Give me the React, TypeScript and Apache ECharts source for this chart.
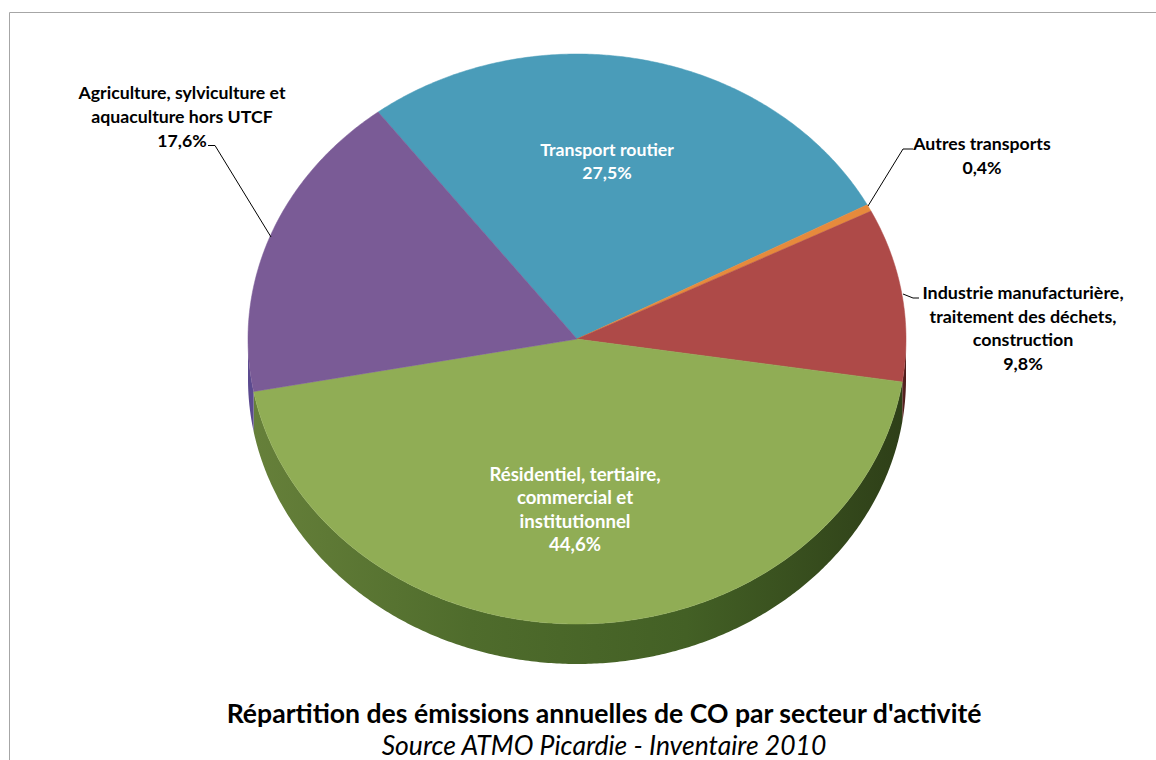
import React, { useEffect, useRef } from "react";
import * as echarts from "echarts";

const sectors = ["Transport routier", "Autres transports", "Industrie manufacturière,\ntraitement des déchets,\nconstruction", "Résidentiel, tertiaire,\ncommercial et\ninstitutionnel", "Agriculture, sylviculture et\naquaculture hors UTCF"];
const shares = [27.5, 0.4, 9.8, 44.6, 17.6];
const topColors = ["#4a9cb9", "#e68a3c", "#ae4a48", "#90ad55", "#7a5b96"];
const wallStops = [
  ["#2f6b80", "#2f6b80"],
  ["#a05c20", "#a05c20"],
  ["#5e2422", "#4a1c1a"],
  ["#66803a", "#4f6c2c", "#436025", "#2e3f18"],
  ["#5b4a8f", "#5b4a8f"],
];
const labelColors = ["#ffffff", "#000000", "#000000", "#ffffff", "#000000"];
const labelSizes = [17.7, 17.7, 17.9, 18.6, 17.7];
const labelCenters = [[607, 161], [982, 155.5], [1023, 327.5], [575, 509], [182, 116.5]];
const titleText = "Répartition des émissions annuelles de CO par secteur d'activité";
const sourceText = "Source ATMO Picardie - Inventaire 2010";

const CX = 577, CY = 339, RX = 329, RY = 285, DEPTH = 40, START_DEG = -37.2;
const FONT = "Lato, sans-serif";

const total = shares.reduce((a, b) => a + b, 0);
const pt = (deg: number, dy = 0) => {
  const r = (deg * Math.PI) / 180;
  return [CX + RX * Math.sin(r), CY - RY * Math.cos(r) + dy];
};
const sliceRange = (i: number) => {
  const before = shares.slice(0, i).reduce((a, b) => a + b, 0);
  const a0 = START_DEG + (before / total) * 360;
  return [a0, a0 + (shares[i] / total) * 360];
};
const arc = (a0: number, a1: number, dy = 0) => {
  const n = Math.max(2, Math.ceil((a1 - a0) / 0.5));
  const out: number[][] = [];
  for (let k = 0; k <= n; k++) out.push(pt(a0 + ((a1 - a0) * k) / n, dy));
  return out;
};
const fmt = (v: number) => v.toFixed(1).replace(".", ",") + "%";

export default function App() {
  const ref = useRef<HTMLDivElement>(null);
  useEffect(() => {
    const chart = echarts.init(ref.current!, null, { renderer: "svg" });
    const data = shares.map((v, i) => ({ value: v, name: sectors[i] }));
    chart.setOption({
      animation: false,
      backgroundColor: "#ffffff",
      series: [
        {
          type: "custom",
          coordinateSystem: "none",
          silent: true,
          z: 1,
          data,
          renderItem: (p: any) => {
            const [a0, a1] = sliceRange(p.dataIndex);
            const lo = Math.max(a0, 90);
            const hi = Math.min(a1, 270);
            if (hi <= lo) return { type: "group", children: [] };
            const front = arc(lo, hi);
            const back = arc(lo, hi, DEPTH).reverse();
            const stops = wallStops[p.dataIndex];
            return {
              type: "polygon",
              shape: { points: front.concat(back) },
              style: {
                fill: new echarts.graphic.LinearGradient(0, 0, 1, 0,
                  stops.map((color, k) => ({ offset: k / (stops.length - 1), color }))),
              },
            };
          },
        },
        {
          type: "custom",
          coordinateSystem: "none",
          silent: true,
          z: 2,
          data,
          renderItem: (p: any) => {
            const [a0, a1] = sliceRange(p.dataIndex);
            return {
              type: "polygon",
              shape: { points: [[CX, CY], ...arc(a0, a1)] },
              style: { fill: topColors[p.dataIndex], stroke: topColors[p.dataIndex], lineWidth: 0.5 },
            };
          },
        },
        {
          type: "custom",
          coordinateSystem: "none",
          silent: true,
          z: 5,
          data,
          renderItem: (p: any) => {
            const i = p.dataIndex;
            return {
              type: "text",
              x: labelCenters[i][0],
              y: labelCenters[i][1],
              style: {
                text: sectors[i] + "\n" + fmt(shares[i]),
                fill: labelColors[i],
                font: `bold ${labelSizes[i]}px ${FONT}`,
                lineHeight: i === 0 ? 23 : 23.6,
                align: "center",
                verticalAlign: "middle",
              },
            };
          },
        },
      ],
      graphic: [
        { type: "rect", z: 0, shape: { x: 9.5, y: 12.5, width: 1170, height: 800 }, style: { fill: "none", stroke: "#a6a6a6", lineWidth: 1 } },
        { type: "polyline", z: 10, shape: { points: [[208, 145.5], [215, 145.5], [271, 237]] }, style: { fill: "none", stroke: "#000", lineWidth: 1 } },
        { type: "polyline", z: 10, shape: { points: [[913, 149], [903, 149], [868, 206]] }, style: { fill: "none", stroke: "#000", lineWidth: 1 } },
        { type: "polyline", z: 10, shape: { points: [[903, 294], [913, 298], [919, 298]] }, style: { fill: "none", stroke: "#000", lineWidth: 1 } },
        { type: "text", z: 10, x: 604, y: 713, style: { text: titleText, fill: "#000", font: `bold 26.6px ${FONT}`, align: "center", verticalAlign: "middle" } },
        { type: "text", z: 10, x: 604, y: 745, style: { text: sourceText, fill: "#000", font: `italic 26.5px ${FONT}`, align: "center", verticalAlign: "middle" } },
      ],
    });
    return () => chart.dispose();
  }, []);
  return <div ref={ref} style={{ position: "absolute", left: 0, top: 0, width: 1156, height: 760 }} />;
}
